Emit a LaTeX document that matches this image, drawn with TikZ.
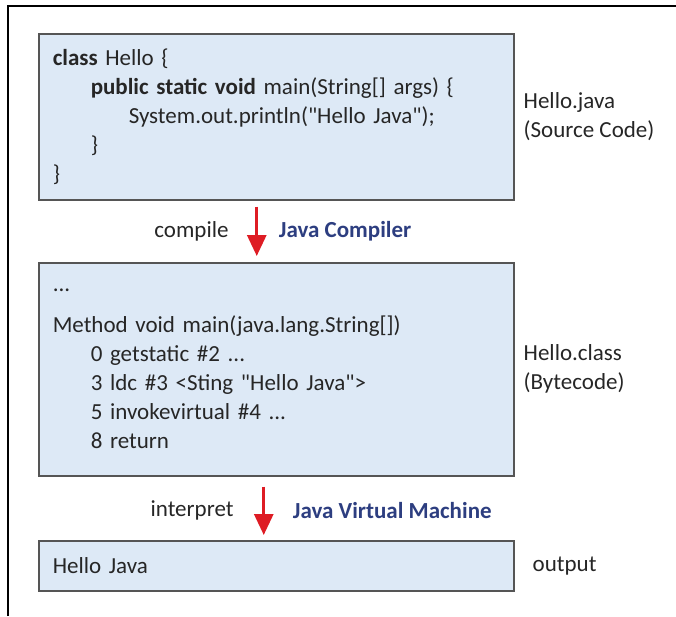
\documentclass[tikz,border=0pt]{standalone}
\usepackage{fontspec}
\setmainfont{Carlito}
\usetikzlibrary{arrows.meta}
\usetikzlibrary{positioning}
\definecolor{boxblue}{RGB}{221,233,246}
\definecolor{boxline}{RGB}{85,85,85}
\definecolor{arrowred}{RGB}{222,28,36}
\definecolor{toolblue}{RGB}{45,62,128}
\definecolor{textgray}{RGB}{38,38,38}
\newcommand{\ind}{\hspace*{38pt}}
\newcommand{\dq}{\textquotedbl}

\begin{document}
\begin{tikzpicture}[x=1pt,y=1pt,
  font=\fontsize{23}{29}\selectfont,
  codebox/.style={draw=boxline, line width=1.5pt, fill=boxblue, anchor=north west,
    minimum width=475pt, text width=447pt, inner xsep=14pt, align=left, text=textgray},
  sidelabel/.style={text=textgray, align=left, inner sep=0pt},
  steplabel/.style={text=textgray, inner sep=0pt},
  toollabel/.style={text=toolblue, font=\fontsize{23}{29}\selectfont\bfseries, inner sep=0pt},
  redarrow/.style={draw=arrowred, line width=3pt, -{Triangle[length=21pt, width=19pt]}}]
\useasboundingbox (0,0) rectangle (676,-616);
\draw[line width=1.6pt] (8,-616) -- (8,-6) -- (676,-6);

% the three boxes
\node[codebox, minimum height=166pt] (src) at (38,-33) {%
  \textbf{class} Hello \{\\
  \ind\textbf{public static void} main(String[] args) \{\\
  \ind\ind System.out.println(\dq Hello Java\dq);\\
  \ind\}\\
  \}};
\node[codebox, minimum height=213pt] (bc) at (38,-262) {%
  ...\\[12pt]
  Method void main(java.lang.String[])\\
  \ind 0 getstatic \#2 ...\\
  \ind 3 ldc \#3 <Sting \dq Hello Java\dq>\\
  \ind 5 invokevirtual \#4 ...\\
  \ind 8 return};
\node[codebox, minimum height=50pt] (outp) at (38,-540) {Hello Java};

% labels on the right
\node[sidelabel, right=9pt of src.east] (srclbl) {Hello.java\\(Source Code)};
\node[sidelabel, right=9pt of bc.east] (bclbl) {Hello.class\\(Bytecode)};
\node[sidelabel, right=18pt of outp.east] (outlbl) {output};

% compile / interpret arrows
\coordinate (c1) at ([xshift=-19.5pt,yshift=-6pt]src.south);
\coordinate (c2) at ([xshift=-19.5pt,yshift=6pt]bc.north);
\draw[redarrow] (c1) -- (c2) coordinate[midway] (m1);
\node[steplabel, left=28pt of m1] (compile) {compile};
\node[toollabel, right=22pt of m1] (javac) {Java Compiler};

\coordinate (c3) at ([xshift=-12.5pt,yshift=-10pt]bc.south);
\coordinate (c4) at ([xshift=-12.5pt,yshift=5pt]outp.north);
\draw[redarrow] (c3) -- (c4) coordinate[midway] (m2);
\node[steplabel, left=30pt of m2] (interp) {interpret};
\node[toollabel, right=29pt of m2] (jvm) {Java Virtual Machine};
\end{tikzpicture}
\end{document}
